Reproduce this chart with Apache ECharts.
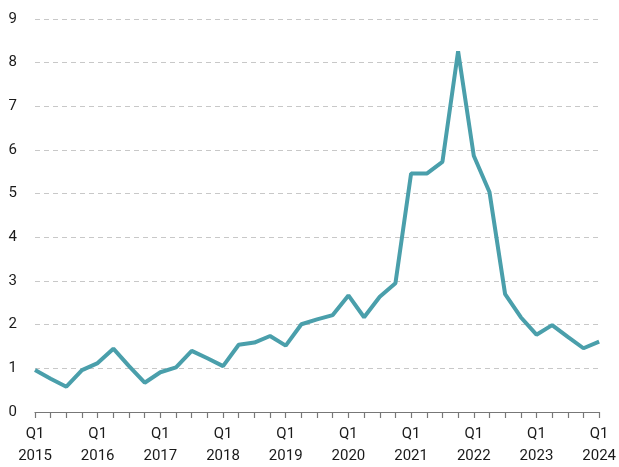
<!DOCTYPE html>
<html>
<head>
<meta charset="utf-8">
<script src="https://cdn.jsdelivr.net/npm/echarts@6/dist/echarts.min.js"></script>
<style>
  html, body { margin: 0; padding: 0; background: #fff; }
  #main { width: 619px; height: 467px; }
</style>
</head>
<body>
<div id="main"></div>
<script>
// quarters 2015 Q1 .. 2024 Q1
var years = [2015, 2016, 2017, 2018, 2019, 2020, 2021, 2022, 2023, 2024];
var quarters = ['Q1', 'Q2', 'Q3', 'Q4'];
var values = [
  0.96, 0.76, 0.58, 0.96, 1.12, 1.45, 1.05, 0.67, 0.91, 1.02,
  1.40, 1.23, 1.05, 1.54, 1.59, 1.74, 1.52, 2.01, 2.12, 2.22,
  2.67, 2.17, 2.64, 2.95, 5.46, 5.46, 5.73, 8.26, 5.87, 5.04,
  2.70, 2.17, 1.77, 1.99, 1.72, 1.46, 1.61
];

var categories = [];
for (var i = 0; i < values.length; i++) {
  categories.push(quarters[i % 4] + '\n' + years[Math.floor(i / 4)]);
}

var chart = echarts.init(document.getElementById('main'));
chart.setOption({
  animation: false,
  grid: { left: 35, right: 19, top: 19, bottom: 53 },
  xAxis: {
    type: 'category',
    data: categories,
    boundaryGap: false,
    axisLine: { show: true, lineStyle: { color: '#777', width: 1.2 } },
    axisTick: { show: true, interval: 0, length: 6, lineStyle: { color: '#777', width: 1.2 } },
    axisLabel: { interval: 3, color: '#1a1a1a', fontFamily: 'Roboto', fontSize: 15, lineHeight: 22, margin: 11 }
  },
  yAxis: {
    type: 'value', min: 0, max: 9, interval: 1,
    axisLine: { show: false }, axisTick: { show: false },
    axisLabel: { color: '#1a1a1a', fontFamily: 'Roboto', fontSize: 15, margin: 18 },
    splitLine: { lineStyle: { color: '#c8c8c8', type: [5, 4], width: 1 } }
  },
  series: [{ type: 'line', data: values, symbol: 'none', lineStyle: { color: '#4a9fab', width: 4 } }]
});
</script>
</body>
</html>
